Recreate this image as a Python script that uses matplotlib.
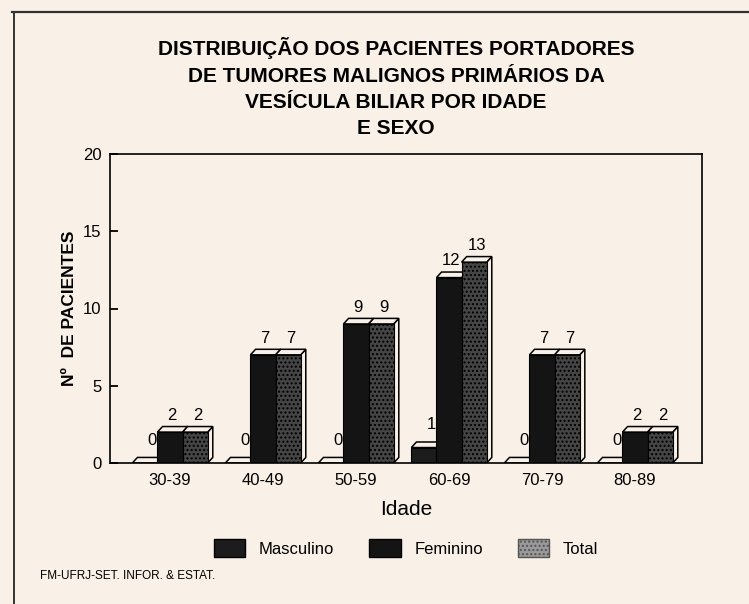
import matplotlib
matplotlib.use("Agg")
import matplotlib.pyplot as plt
from matplotlib.patches import Polygon, Patch
from matplotlib.lines import Line2D

idades = ["30-39", "40-49", "50-59", "60-69", "70-79", "80-89"]
masculino = [0, 0, 0, 1, 0, 0]
feminino = [2, 7, 9, 12, 7, 2]
total = [2, 7, 9, 13, 7, 2]

titulo = ("DISTRIBUIÇÃO DOS PACIENTES PORTADORES\n"
          "DE TUMORES MALIGNOS PRIMÁRIOS DA\n"
          "VESÍCULA BILIAR POR IDADE\n"
          "E SEXO")

paper = "#f9f0e7"
plt.rcParams["font.family"] = ["Liberation Sans", "DejaVu Sans"]
plt.rcParams["hatch.color"] = "#8a8a8a"

fig = plt.figure(figsize=(7.49, 6.04), dpi=100, facecolor=paper)
ax = fig.add_axes([110 / 749, 1 - 463 / 604, 592 / 749, 309 / 604])
ax.set_facecolor(paper)

w = 0.27       # bar width (data units)
dx, dy = 0.055, 0.36   # 3D depth offset


def bar3d(x, h, color, hatch=None):
    # side and top faces first, then front
    side = Polygon([(x + w / 2, 0), (x + w / 2 + dx, dy), (x + w / 2 + dx, h + dy), (x + w / 2, h)],
                   closed=True, facecolor=paper, edgecolor="black", lw=1.1, zorder=2)
    top = Polygon([(x - w / 2, h), (x - w / 2 + dx, h + dy), (x + w / 2 + dx, h + dy), (x + w / 2, h)],
                  closed=True, facecolor=paper, edgecolor="black", lw=1.1, zorder=2)
    ax.add_patch(side)
    ax.add_patch(top)
    if h > 0:
        ax.bar(x, h, width=w, color=color, edgecolor="black", lw=0.8,
               hatch=hatch, zorder=2)


series = [(masculino, -w, "#1c1c1c", None),
          (feminino, 0, "#141414", None),
          (total, w, "#454545", "....")]

for i in range(len(idades)):
    for vals, off, col, hat in series:
        bar3d(i + off, vals[i], col, hat)
    # value labels
    ax.text(i - w + 0.08, masculino[i] + 1.0, str(masculino[i]), ha="center", va="bottom",
            fontsize=12, zorder=3)
    ax.text(i + 0.02, feminino[i] + 0.6, str(feminino[i]), ha="center", va="bottom",
            fontsize=12, zorder=3)
    ax.text(i + w + 0.03, total[i] + 0.6, str(total[i]), ha="center", va="bottom",
            fontsize=12, zorder=3)

ax.set_xlim(-0.645, 5.72)
ax.set_ylim(0, 20)
ax.set_yticks([0, 5, 10, 15, 20])
ax.set_xticks(range(len(idades)))
ax.set_xticklabels(idades, fontsize=12)
ax.tick_params(axis="y", direction="in", length=6, width=1.3, labelsize=12, pad=6)
ax.tick_params(axis="x", length=0, pad=7)
for s in ax.spines.values():
    s.set_linewidth(1.2)

ax.set_xlabel("Idade", fontsize=15, labelpad=9)
ax.set_ylabel("Nº  DE PACIENTES", fontsize=12.5, fontweight="bold", labelpad=4)

fig.text(396 / 749, 1 - 37 / 604, titulo, ha="center", va="top", fontsize=15,
         fontweight="bold", linespacing=1.5)

handles = [Patch(facecolor="#1c1c1c", edgecolor="black"),
           Patch(facecolor="#141414", edgecolor="black"),
           Patch(facecolor="#9a9a9a", edgecolor="#555555", hatch="....")]
fig.legend(handles, ["Masculino", "Feminino", "Total"], loc="center",
           bbox_to_anchor=(406 / 749, 1 - 548 / 604), ncol=3, frameon=False,
           fontsize=12, handlelength=1.9, handleheight=1.2, handletextpad=0.8,
           columnspacing=2.1)

fig.text(40 / 749, 1 - 576 / 604, "FM-UFRJ-SET. INFOR. & ESTAT.", fontsize=8.5,
         ha="left", va="center")

# page frame of the scanned sheet
fig.add_artist(Line2D([12 / 749, 1], [1 - 12 / 604, 1 - 12 / 604], color="#333333", lw=1.6))
fig.add_artist(Line2D([14 / 749, 14 / 749], [0, 1 - 12 / 604], color="#333333", lw=1.4))

fig.savefig("out.png", dpi=100, facecolor=paper)
